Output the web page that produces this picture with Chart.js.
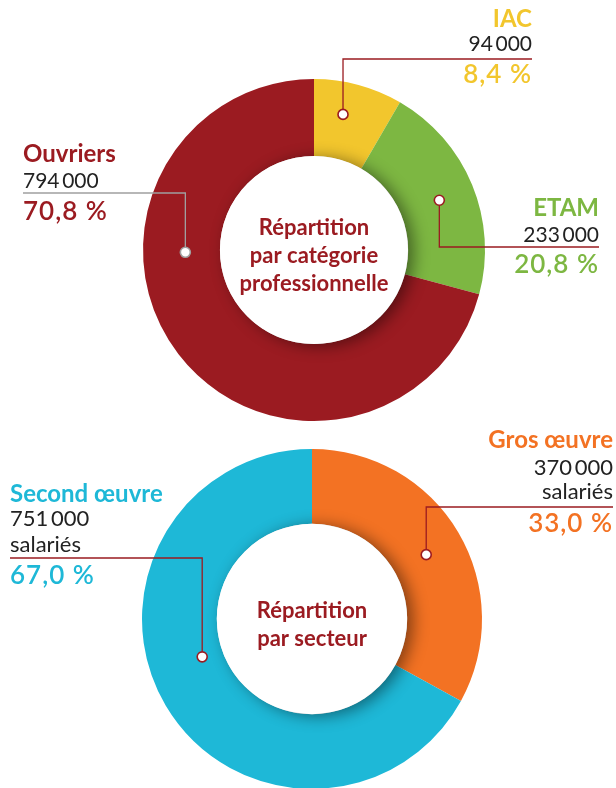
<!DOCTYPE html>
<html>
<head>
<meta charset="utf-8">
<script src="https://cdn.jsdelivr.net/npm/chart.js@4.4.1/dist/chart.umd.min.js"></script>
<style>
    html, body { margin: 0; padding: 0; background: #fff; overflow: hidden; }
    #wrap { position: relative; width: 616px; height: 788px; overflow: hidden; }
    canvas { position: absolute; left: 0; top: 0; }
</style>
</head>
<body>
<div id="wrap">
    <canvas id="categories" width="616" height="800"></canvas>
    <canvas id="sectors" width="616" height="800"></canvas>
</div>
<script>
// Répartition par catégorie professionnelle
const CATEGORIES = ['IAC', 'ETAM', 'Ouvriers'];
const CATEGORY_EMPLOYEES = [94000, 233000, 794000];
const CATEGORY_SHARES = [8.4, 20.8, 70.8];

// Répartition par secteur
const SECTORS = ['Gros œuvre', 'Second œuvre'];
const SECTOR_EMPLOYEES = [370000, 751000];
const SECTOR_SHARES = [33.0, 67.0];

const CATEGORY_COLORS = ['#F2C62D', '#7DB742', '#9B1B21'];
const SECTOR_COLORS = ['#F37223', '#1EB8D7'];
const DARK_RED = '#9B1B21';
const INK = '#222222';
const FONT = 'Lato';

// label placement (page pixels) and where the leader dot sits inside its slice
const CATEGORY_LABELS = [
    { align: 'right', x: 532, name: 27, value: 51, line: 59, share: 83, t: 0.4, r: 0.58, color: DARK_RED },
    { align: 'right', x: 599, name: 216, value: 242, line: 247, share: 273, t: 0.51, r: 0.53, color: DARK_RED },
    { align: 'left', x: 23, name: 162, value: 188, line: 193, share: 220, t: 0.643, r: 0.45, color: '#A0A0A0' }
];
const SECTOR_LABELS = [
    { align: 'right', x: 613, name: 448, value: 475, unit: 499, line: 507, share: 532, t: 0.51, r: 0.48, color: DARK_RED },
    { align: 'left', x: 10, name: 502, value: 526, unit: 552, line: 558, share: 584, t: 0.548, r: 0.28, color: DARK_RED }
];

const donutLabels = {
    id: 'donutLabels',
    afterDatasetsDraw(chart, args, opts) {
        let ctx = chart.ctx;
        let meta = chart.getDatasetMeta(0);
        let first = meta.data[0];
        let cx = first.x;
        let cy = first.y;

        // white hole, throwing a soft shadow on the ring
        ctx.save();
        ctx.shadowColor = 'rgba(0, 0, 0, 0.45)';
        ctx.shadowBlur = 16;
        ctx.shadowOffsetX = 6;
        ctx.shadowOffsetY = 2;
        ctx.fillStyle = '#fff';
        ctx.beginPath();
        ctx.arc(cx, cy, first.innerRadius, 0, Math.PI * 2);
        ctx.fill();
        ctx.restore();

        ctx.save();
        ctx.fillStyle = DARK_RED;
        ctx.textAlign = 'center';
        ctx.textBaseline = 'alphabetic';
        ctx.font = `bold 22px ${FONT}`;
        opts.title.forEach((line, i) => {
            ctx.fillText(line, cx, cy + opts.titleOffset + i * 28);
        });

        opts.specs.forEach((spec, i) => {
            let arc = meta.data[i];
            let angle = arc.startAngle + spec.t * (arc.endAngle - arc.startAngle);
            let radius = arc.innerRadius + spec.r * (arc.outerRadius - arc.innerRadius);
            let px = cx + Math.cos(angle) * radius;
            let py = cy + Math.sin(angle) * radius;

            ctx.strokeStyle = spec.color;
            ctx.lineWidth = 1.3;
            ctx.beginPath();
            ctx.moveTo(px, py);
            ctx.lineTo(px, spec.line);
            ctx.lineTo(spec.x, spec.line);
            ctx.stroke();

            ctx.fillStyle = '#fff';
            ctx.lineWidth = 1.6;
            ctx.beginPath();
            ctx.arc(px, py, 5, 0, Math.PI * 2);
            ctx.fill();
            ctx.stroke();

            let color = opts.colors[i];
            ctx.textAlign = spec.align;

            ctx.fillStyle = color;
            ctx.font = `bold ${opts.nameSize}px ${FONT}`;
            ctx.fillText(opts.labels[i], spec.x, spec.name);

            ctx.fillStyle = INK;
            ctx.font = `${opts.valueSize}px ${FONT}`;
            ctx.fillText(formatCount(opts.values[i]), spec.x, spec.value);
            if (spec.unit != null)
                ctx.fillText('salariés', spec.x, spec.unit);

            ctx.fillStyle = color;
            ctx.font = `600 26px ${FONT}`;
            ctx.letterSpacing = '1px';
            ctx.fillText(opts.shares[i].toFixed(1).replace('.', ',') + '\u00A0%', spec.x, spec.share);
            ctx.letterSpacing = '0px';
        });
        ctx.restore();
    }
};

initDonut('categories', {
    labels: CATEGORIES,
    values: CATEGORY_EMPLOYEES,
    shares: CATEGORY_SHARES,
    colors: CATEGORY_COLORS,
    cutout: '55%',
    padding: { top: 79, bottom: 379, left: 143, right: 131 },
    title: ['Répartition', 'par catégorie', 'professionnelle'],
    titleOffset: -15,
    specs: CATEGORY_LABELS,
    nameSize: 24,
    valueSize: 21
});

initDonut('sectors', {
    labels: SECTORS,
    values: SECTOR_EMPLOYEES,
    shares: SECTOR_SHARES,
    colors: SECTOR_COLORS,
    cutout: '56%',
    padding: { top: 449, bottom: 11, left: 142, right: 134 },
    title: ['Répartition', 'par secteur'],
    titleOffset: -1,
    specs: SECTOR_LABELS,
    nameSize: 24,
    valueSize: 22
});

function formatCount(n) {
    // thousands separated by a thin space, as in the print layout
    return String(n).replace(/\B(?=(\d{3})+(?!\d))/g, '\u2009');
}

function initDonut(id, cfg) {
    let ctx = document.getElementById(id).getContext('2d');

    new Chart(ctx, {
        type: 'doughnut',
        plugins: [donutLabels],
        data: {
            labels: cfg.labels,
            datasets: [{
                data: cfg.values,
                backgroundColor: cfg.colors,
                borderWidth: 0,
                hoverOffset: 0
            }]
        },
        options: {
            responsive: false,
            animation: false,
            cutout: cfg.cutout,
            rotation: 0,
            layout: { padding: cfg.padding },
            events: [],
            plugins: {
                legend: false,
                tooltip: false,
                title: false,
                donutLabels: cfg
            }
        }
    });
}
</script>
</body>
</html>
